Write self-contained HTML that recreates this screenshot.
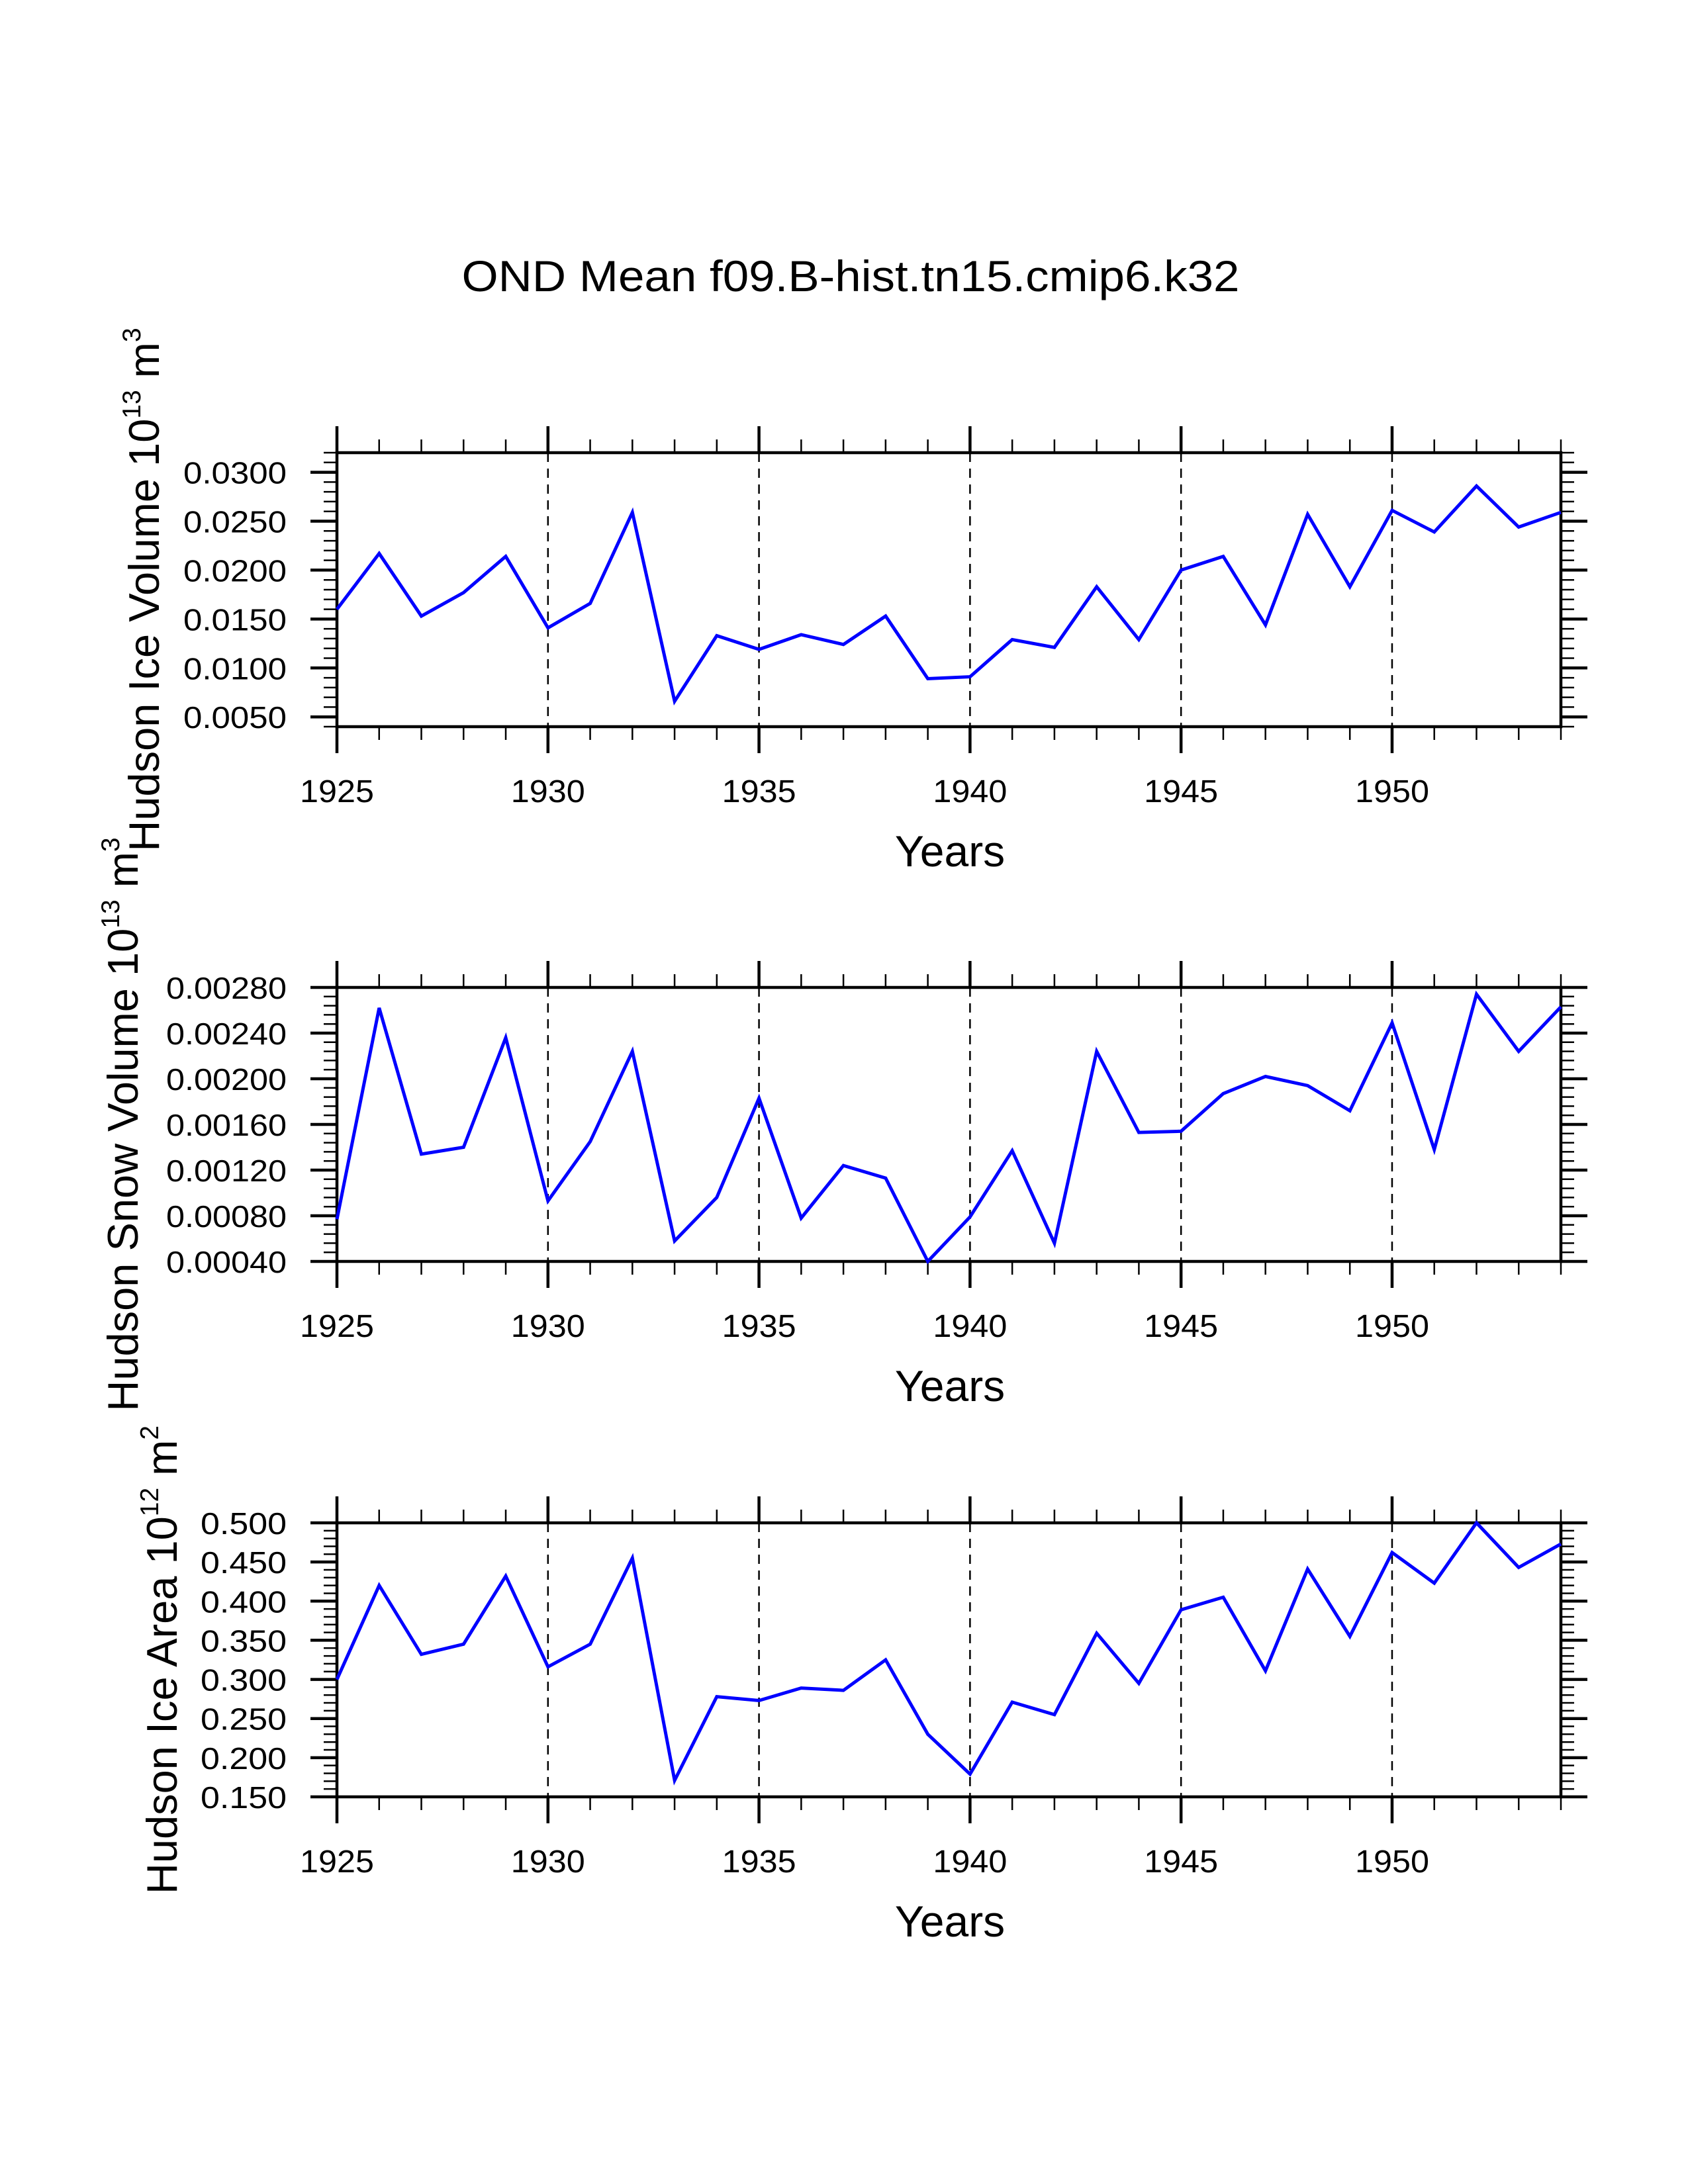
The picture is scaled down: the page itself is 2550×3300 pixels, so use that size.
<!DOCTYPE html>
<html><head><meta charset="utf-8"><style>
html,body{margin:0;padding:0;background:#fff;}
svg{display:block;font-family:"Liberation Sans",Arial,sans-serif;}
</style></head><body>
<svg id="chart" width="2550" height="3300" viewBox="0 0 2550 3300" xmlns="http://www.w3.org/2000/svg">
<rect width="2550" height="3300" fill="#fff"/>
<text x="1285" y="440" font-size="66" text-anchor="middle" textLength="1175" lengthAdjust="spacingAndGlyphs">OND Mean f09.B-hist.tn15.cmip6.k32</text>
</svg>
<script>
const years = [1925,1926,1927,1928,1929,1930,1931,1932,1933,1934,1935,1936,1937,1938,1939,1940,1941,1942,1943,1944,1945,1946,1947,1948,1949,1950,1951,1952,1953,1954];
const iceVolume = [0.0160,0.0217,0.0153,0.0177,0.0214,0.0141,0.0166,0.0259,0.0066,0.0133,0.0119,0.0134,0.0124,0.0153,0.0089,0.0091,0.0129,0.0121,0.0183,0.0129,0.0200,0.0214,0.0144,0.0257,0.0183,0.0261,0.0239,0.0286,0.0244,0.0259];
const snowVolume = [0.00077,0.00262,0.00134,0.00140,0.00236,0.00093,0.00145,0.00224,0.00058,0.00096,0.00183,0.00078,0.00124,0.00113,0.00040,0.00079,0.00137,0.00056,0.00224,0.00153,0.00154,0.00187,0.00202,0.00194,0.00172,0.00249,0.00138,0.00274,0.00224,0.00263];
const iceArea = [0.300,0.420,0.332,0.345,0.432,0.316,0.345,0.455,0.171,0.278,0.273,0.289,0.286,0.325,0.230,0.179,0.271,0.255,0.359,0.295,0.389,0.405,0.311,0.441,0.355,0.462,0.423,0.500,0.443,0.473];
const xTickYears = [1925,1930,1935,1940,1945,1950];
const iceVolumeTicks = [0.0050,0.0100,0.0150,0.0200,0.0250,0.0300];
const snowVolumeTicks = [0.00040,0.00080,0.00120,0.00160,0.00200,0.00240,0.00280];
const iceAreaTicks = [0.150,0.200,0.250,0.300,0.350,0.400,0.450,0.500];

const NS = "http://www.w3.org/2000/svg";
const svg = document.getElementById('chart');
const X0 = 509, X1 = 2358, Y0 = 1925, Y1 = 1954, PH = 414;
function xs(v){ return X0 + (v - Y0) * (X1 - X0) / (Y1 - Y0); }
function mk(tag, attrs, parent){
  const e = document.createElementNS(NS, tag);
  for (const k in attrs) e.setAttribute(k, attrs[k]);
  (parent || svg).appendChild(e);
  return e;
}

function panel(cfg){
  const top = cfg.top, bot = cfg.top + PH;
  const ys = v => bot - (v - cfg.min) * (bot - top) / (cfg.max - cfg.min);
  const g = mk('g', {});
  
  
  xTickYears.slice(1).forEach(y => {
    const l = mk('line', {x1: xs(y), x2: xs(y), y1: top, y2: bot, stroke: '#000', 'stroke-width': 2.5, 'stroke-dasharray': '14 10'}, g);
    
    
  });
  for (let y = Y0; y <= Y1; y++) {
    const major = (y % 5 === 0);
    const len = major ? 40 : 20, sw = major ? 4.5 : 2.5;
    const x = xs(y);
    const t1 = mk('line', {x1: x, x2: x, y1: top, y2: top - len, stroke: '#000', 'stroke-width': sw}, g);
    
    
    const t2 = mk('line', {x1: x, x2: x, y1: bot, y2: bot + len, stroke: '#000', 'stroke-width': sw}, g);
    
    
  }
  xTickYears.forEach(y => {
    const t = mk('text', {x: xs(y), y: bot + 114, 'font-size': 48, 'text-anchor': 'middle', textLength: 112, lengthAdjust: 'spacingAndGlyphs'}, g);
    t.textContent = y;
    
    
  });
  const nMin = Math.round((cfg.max - cfg.min) / cfg.minor);
  for (let i = 0; i <= nMin; i++) {
    const v = cfg.min + i * cfg.minor;
    const y = ys(v);
    const a = mk('line', {x1: X0, x2: X0 - 20, y1: y, y2: y, stroke: '#000', 'stroke-width': 2.5}, g);
    
    
    const b = mk('line', {x1: X1, x2: X1 + 20, y1: y, y2: y, stroke: '#000', 'stroke-width': 2.5}, g);
    
    
  }
  cfg.ticks.forEach(v => {
    const y = ys(v);
    const a = mk('line', {x1: X0, x2: X0 - 40, y1: y, y2: y, stroke: '#000', 'stroke-width': 4.5}, g);
    
    
    const b = mk('line', {x1: X1, x2: X1 + 40, y1: y, y2: y, stroke: '#000', 'stroke-width': 4.5}, g);
    
    
    const s = v.toFixed(cfg.dec);
    const t = mk('text', {x: 433, y: y + 17, 'font-size': 46, 'text-anchor': 'end', textLength: s.length * 26, lengthAdjust: 'spacingAndGlyphs'}, g);
    t.textContent = s;
    
    
  });
  const f = mk('rect', {x: X0, y: top, width: X1 - X0, height: bot - top, fill: 'none', stroke: '#000', 'stroke-width': 4.5}, g);
  
  
  const pts = years.map((yr, i) => xs(yr).toFixed(1) + ',' + ys(cfg.data[i]).toFixed(1)).join(' ');
  const p = mk('polyline', {points: pts, fill: 'none', stroke: '#0000ff', 'stroke-width': 5, 'stroke-linejoin': 'miter'}, g);
  
  
  const xt = mk('text', {x: 1435, y: bot + 211, 'font-size': 66, 'text-anchor': 'middle'}, g);
  xt.textContent = 'Years';
  
  
  const cy = (top + bot) / 2;
  const yt = mk('text', {x: cfg.labelX, y: cy, 'font-size': 65, 'text-anchor': 'middle', transform: 'rotate(-90 ' + cfg.labelX + ' ' + cy + ')'}, g);
  
  
  const t1 = mk('tspan', {}, yt); t1.textContent = cfg.label + ' 10';
  const t2 = mk('tspan', {dy: -28, 'font-size': 39}, yt); t2.textContent = cfg.exp;
  const t3 = mk('tspan', {dy: 28}, yt); t3.textContent = ' m';
  const t4 = mk('tspan', {dy: -28, 'font-size': 39}, yt); t4.textContent = cfg.unitExp;
}

panel({name: 'ice-volume-panel', top: 684, min: 0.004, max: 0.032, minor: 0.001, ticks: iceVolumeTicks, dec: 4, data: iceVolume, label: 'Hudson Ice Volume', exp: '13', unitExp: '3', labelX: 240});
panel({name: 'snow-volume-panel', top: 1492, min: 0.0004, max: 0.0028, minor: 0.00008, ticks: snowVolumeTicks, dec: 5, data: snowVolume, label: 'Hudson Snow Volume', exp: '13', unitExp: '3', labelX: 208});
panel({name: 'ice-area-panel', top: 2301, min: 0.15, max: 0.50, minor: 0.01, ticks: iceAreaTicks, dec: 3, data: iceArea, label: 'Hudson Ice Area', exp: '12', unitExp: '2', labelX: 267});
</script>
</body></html>
